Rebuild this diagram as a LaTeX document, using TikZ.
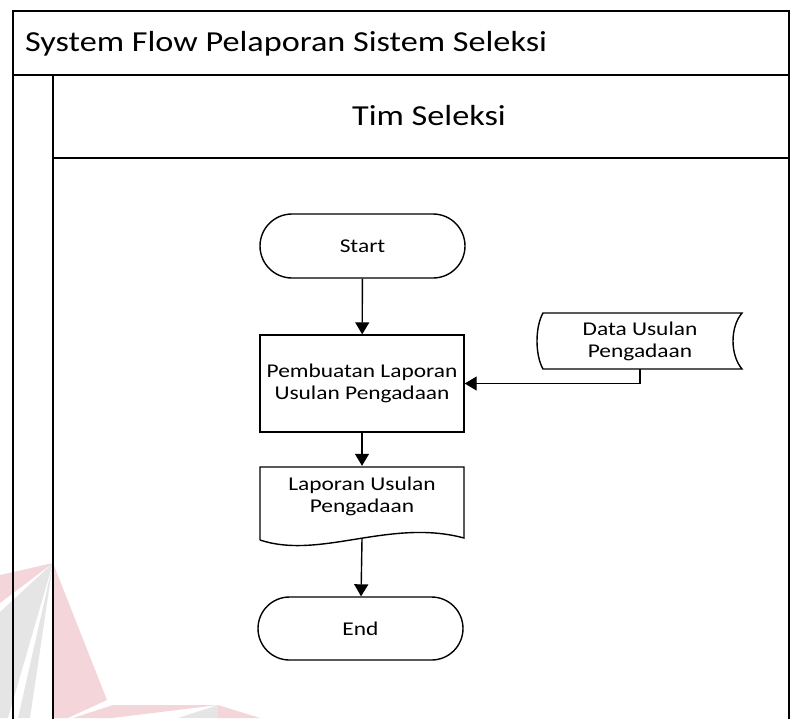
\documentclass[tikz,border=0pt]{standalone}
\usepackage{fontspec}
\setmainfont{Carlito}
\newfontfamily\bigfont[FakeStretch=1.18]{Carlito}
\newfontfamily\smallfont[FakeStretch=1.2]{Carlito}
\usetikzlibrary{shapes.misc,arrows.meta}
\definecolor{wmpink}{RGB}{244,214,218}
\definecolor{wmgrey}{RGB}{229,229,229}
\begin{document}
\begin{tikzpicture}[x=1pt,y=-1pt,
  frame/.style={line width=1.8pt, line cap=rect},
  shapeline/.style={line width=1.4pt},
  nodetext/.style={font=\smallfont\fontsize{19.5}{22}\selectfont, align=center, inner sep=0pt},
  term/.style={rounded rectangle, draw, shapeline, minimum width=205pt, minimum height=64pt, nodetext},
  procbox/.style={rectangle, draw, shapeline, minimum width=204pt, minimum height=97pt, nodetext},
  plain/.style={rectangle, nodetext},
  arr/.style={line width=1.4pt, -{Triangle[length=12pt,width=14pt]}},
  header/.style={font=\bigfont\fontsize{29}{31}\selectfont, inner sep=0pt}
]
\useasboundingbox (0,0) rectangle (791,718);
% watermark
\fill[wmpink] (53,563) -- (0,575) -- (0,603) -- cycle;
\fill[wmgrey] (53,563) -- (0,612) -- (0,718) -- (8,718) -- cycle;
\fill[wmgrey] (53,563) -- (18,718) -- (30,718) -- cycle;
\fill[wmpink] (53,563) -- (107,700) -- (68,718) -- (53,718) -- cycle;
\fill[wmpink] (113,705) -- (218,705) -- (112,718) -- (73,718) -- cycle;
\fill[wmgrey] (218,705) -- (178,718) -- (218,718) -- cycle;
\fill[wmpink] (218,705) -- (218,718) -- (260,718) -- cycle;
% frame
\draw[frame] (13,718) -- (13,11) -- (789,11) -- (789,718);
\draw[frame] (13,75) -- (789,75);
\draw[frame] (53,75) -- (53,718);
\draw[frame] (53,158) -- (789,158);
\node[header, anchor=west] (title) at (25,44) {System Flow Pelaporan Sistem Seleksi};
\node[header] (lane) at (429,116) {Tim Seleksi};
% nodes
\node[term] (start) at (362.5,246) {Start};
\node[procbox] (proc) at (362,383.5) {Pembuatan Laporan\\Usulan Pengadaan};
\node[plain, minimum width=204pt, minimum height=60pt] (doc) at (362,496) {Laporan Usulan\\Pengadaan};
\draw[shapeline] (260,540) -- (260,467) -- (464,467) -- (464,538)
  .. controls (390,518) and (320,560) .. (260,540);
\coordinate (docb) at (362,539);
\node[plain, minimum width=205pt, minimum height=56pt] (data) at (640,341) {Data Usulan\\Pengadaan};
\draw[shapeline] (543,313) -- (742,313) .. controls (730,327) and (730,355) .. (742,369)
  -- (543,369) .. controls (535,355) and (535,327) .. (543,313) -- cycle;
\node[term, minimum width=205pt, minimum height=63pt] (end) at (360.5,628.5) {End};
% connectors
\draw[arr] (start) -- (proc);
\draw[arr] (proc) -- (proc |- doc.north);
\draw[arr] (docb) -- (end);
\draw[arr] (data.south) |- (proc.east);
\end{tikzpicture}
\end{document}
